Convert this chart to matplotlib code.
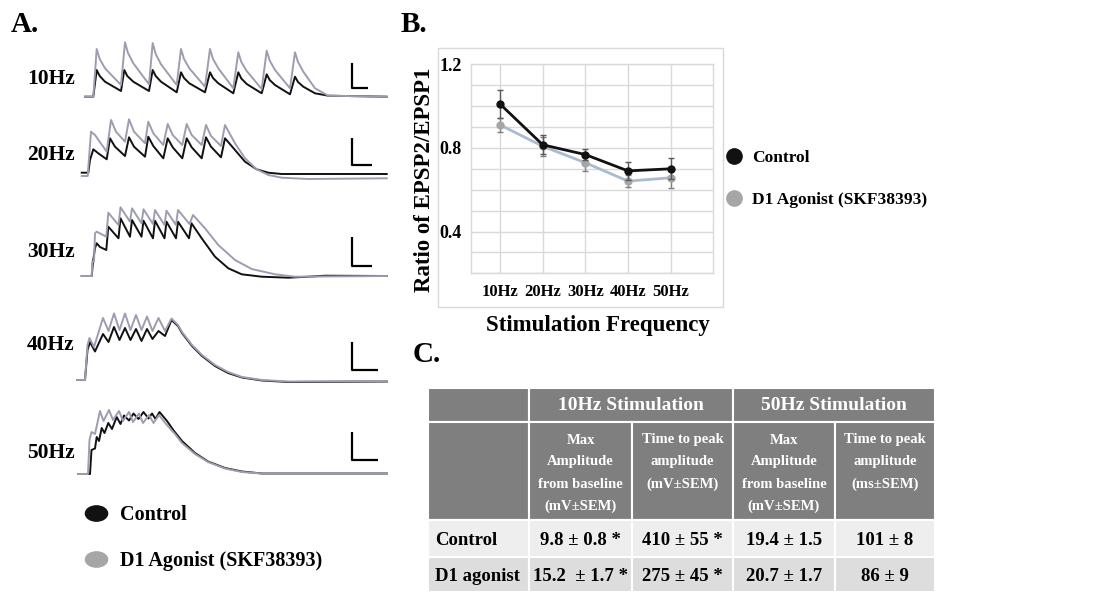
import numpy as np
import matplotlib
matplotlib.use("Agg")
import matplotlib.pyplot as plt
from matplotlib.patches import Rectangle
from matplotlib.lines import Line2D
from matplotlib.markers import MarkerStyle
from matplotlib.transforms import Affine2D

plt.rcParams['font.family'] = ['Liberation Serif', 'DejaVu Serif']
plt.rcParams['font.weight'] = 'bold'

W, H = 1117, 592

# ---------------- Panel B data ----------------
freqs = ['10Hz', '20Hz', '30Hz', '40Hz', '50Hz']
ctrl_ratio = [1.01, 0.815, 0.768, 0.69, 0.70]
ctrl_err = [0.065, 0.045, 0.028, 0.043, 0.05]
d1_ratio = [0.91, 0.808, 0.729, 0.641, 0.657]
d1_err = [0.035, 0.045, 0.04, 0.03, 0.05]

trace_rows = ['10Hz', '20Hz', '30Hz', '40Hz', '50Hz']

ctrl_10 = [(85,96.7),(93.3,96.7),(96.7,70),(99.7,76),(105,81.7),(121,91),
           (124.3,70),(127.3,76),(133.3,81.7),(149,91),
           (152.7,70),(155.7,76),(161,81.7),(176.7,92.3),
           (181,72.3),(184,78),(189.3,83.3),(205,92.3),
           (210,72.3),(213,78),(218.3,83.3),(233.3,93.3),
           (238.3,72.3),(241.3,78.5),(246.7,84),(261.7,93.3),
           (266.7,74.3),(269.7,80),(275,85),(290,94.3),
           (295,76.7),(298,82),(303.3,86.7),(315,93.3),(328.3,95.7),(386.7,96.7)]
d1_10 = [(85,96.7),(93.3,96.7),(96.7,49),(99.7,59),(105,68.3),(121,85),
         (125,42.3),(128,53),(133.3,63.3),(149,84.3),
         (152.7,43),(155.7,54),(161,64.3),(176.7,85),
         (181,49),(184,59),(189.3,68.3),(205,86.7),
         (210,49),(213,59),(218.3,68.3),(233.3,88.3),
         (238.3,52.3),(241.3,62),(246.7,71),(261.7,89),
         (266.7,50.7),(269.7,60.5),(275,70),(290,88.3),
         (295,52.3),(298,62),(303.3,71.7),(315,88.3),(328.3,95.7),(386.7,96.7)]

ctrl_20 = [(81.7,172.7),(88.3,172.7),(90,160),(93.3,149.3),(98.3,153.3),(106.7,159.3),(110,138.3),
           (115,146.7),(125,156),(129,137.3),(134,146.7),(145,156.7),(148.3,136.7),(153.3,146),
           (163.3,158.3),(167.7,138.3),(172.7,147.3),(182.3,158.3),(186.7,138.3),(191.7,147.3),
           (201.7,158.3),(206,137.3),(211,146.7),(221,157.3),(225,138.3),(235,150),(245,161.7),
           (256.7,169.3),(268.3,172.7),(281.7,174),(386.7,174)]
d1_20 = [(81.7,176),(87.7,176),(91,131.7),(95,135),(106.7,151.7),(111,120),(116,131.7),(125,141.7),
         (129,119.3),(134,131.7),(145,143.3),(148.3,121.7),(153.3,133.3),(163.3,145),(167.7,124),
         (172.7,135),(182.3,145),(186.7,124),(191.7,135),(201.7,145),(206,125),(211,136),(221,146),
         (225,125),(235,143.3),(245,158.3),(256.7,169.3),(268.3,175),(281.7,177.7),(308.3,179),(386.7,178.3)]

ctrl_30 = [(81.7,276),(91.7,276),(93,262),(95,248),(96.7,243.3),(100,247),(106.3,250),(108.3,226.7),
           (118.5,238.3),(120.5,218.3),(130,236.7),(132,220),(141.5,236.7),(143.5,220.7),(153,238.3),
           (155,220.7),(164.5,238.3),(166.5,221.7),(176,238.3),(178,221.7),(189,238.3),(191.5,223.3),
           (201.7,238.3),(215,256.7),(228.3,268.3),(241.7,274.3),(261.7,276.7),(288.3,277.7),
           (308.3,276.7),(325,275.7),(386.7,276)]
d1_30 = [(81.7,276),(91.7,276),(92.3,261.7),(94,261.7),(95,233.3),(96.7,231.7),(106.3,236.7),
         (108.3,212.7),(118.5,225),(120.5,207.3),(130,221.7),(132,208.3),(141.5,223.3),(143.5,209.3),
         (153,224),(155,210),(164.5,225),(166.5,210.7),(176,225),(178,210),(189.5,224),(193,215),
         (205,228.3),(218.3,245),(235,260),(251.7,269),(275,274.3),(295,276.7),(386.7,276)]

ctrl_40 = [(77,380),(85,380),(87.5,350),(90,342),(95,351.5),(103,334),(108.5,342),(114,327),
           (119.5,340),(125,328),(130.5,340),(136,329),(141.5,341),(147,329),(152.5,339),(158.5,331),
           (165,336),(171.5,320),(178,326),(182,333),(192,346),(202,356),(215,366),(228,373),
           (242,377.5),(262,380.5),(288,382),(387,381.5)]
d1_40 = [(77,380),(85,380),(87.5,345),(89.5,338),(94,347),(103,318),(108.5,331),(114,313.5),
         (119.5,330),(125,313.5),(130.5,330),(136,315),(141.5,330),(147,316.5),(152.5,331),
         (158.5,318),(165,331),(171.5,318.5),(178,325),(182,332),(192,345),(202,355),(215,365),
         (228,372),(242,377),(262,380),(288,381.5),(387,381)]

ctrl_50 = [(78,474),(90,474),(91.5,450),(95,448.5),(96.7,437),(99,441),(101.7,428),(104.5,433),
           (108.3,423),(112,429),(116.7,417),(120.5,424),(124,415.5),(129,420.5),(133.5,413.5),
           (138.5,419),(143.5,412),(148.5,418.5),(152,413.5),(155.5,419),(159.5,412),(167,421),
           (174,431),(182,441),(195,453),(208,461.5),(225,468),(242,471.5),(262,473.5),(387,473.5)]
d1_50 = [(78,474),(88,474),(89.5,440),(91.5,432),(95,434),(100,411),(103.5,421),(109,410),(113,420),
         (119,411),(123,421),(129,412),(133,422),(139,413.5),(143,423),(149,415),(153.5,423),
         (159,415),(166,424),(175,434),(182,443),(195,454),(208,462),(225,468.5),(242,472),
         (262,473.5),(387,473.5)]

ctrl_traces = [ctrl_10, ctrl_20, ctrl_30, ctrl_40, ctrl_50]
d1_traces = [d1_10, d1_20, d1_30, d1_40, d1_50]

# ---------------- Panel C table data ----------------
col_groups = ['10Hz Stimulation', '50Hz Stimulation']
sub_headers = [['Max', 'Amplitude', 'from baseline', '(mV±SEM)'],
               ['Time to peak', 'amplitude', '(mV±SEM)'],
               ['Max', 'Amplitude', 'from baseline', '(mV±SEM)'],
               ['Time to peak', 'amplitude', '(ms±SEM)']]
row_labels = ['Control', 'D1 agonist']
cell_values = [['9.8 ± 0.8 *', '410 ± 55 *', '19.4 ± 1.5', '101 ± 8'],
               ['15.2  ± 1.7 *', '275 ± 45 *', '20.7 ± 1.7', '86 ± 9']]

legend_labels = ['Control', 'D1 Agonist (SKF38393)']

CTRL_C = '#111111'
D1_TRACE_C = '#9d9db0'
D1_MARK_C = '#a6a6a6'
D1_LINE_C = '#a9bbd0'

fig = plt.figure(figsize=(W / 100, H / 100), dpi=100)

def fx(x):
    return x / W

def fy(y):
    return 1 - y / H

# overlay axes in pixel-like units for panel A and the table
ax0 = fig.add_axes([0, 0, 1, 1], zorder=0)
ax0.set_xlim(0, W)
ax0.set_ylim(H, 0)
ax0.axis('off')

# Panel A traces
for ct, dt in zip(ctrl_traces, d1_traces):
    xs, ys = zip(*ct)
    ax0.plot(xs, ys, color=CTRL_C, lw=1.4, solid_joinstyle='round')
    xs, ys = zip(*dt)
    ax0.plot(xs, ys, color=D1_TRACE_C, lw=1.4, solid_joinstyle='round')

# scale bars
bar_tops = [63, 138, 237, 342, 432]
bar_bottoms = [88, 165, 266, 370, 460]
bar_rights = [368, 372, 372, 378, 378]
for t, b, r in zip(bar_tops, bar_bottoms, bar_rights):
    ax0.plot([352, 352, r], [t, b, b], color='black', lw=1.6, solid_capstyle='butt')

row_label_y = [79, 155, 252, 345, 453]
for lab, y in zip(trace_rows, row_label_y):
    ax0.text(27, y, lab, ha='left', va='center', fontsize=15.5, fontweight='bold')

# Panel A legend (elliptical markers)
ell = MarkerStyle('o', transform=Affine2D().scale(1.45, 1.0))
hA = [Line2D([], [], ls='none', marker=ell, ms=11, color=CTRL_C),
      Line2D([], [], ls='none', marker=ell, ms=11, color=D1_MARK_C)]
legA = ax0.legend(hA, legend_labels, loc='center left', bbox_to_anchor=(fx(84), fy(538)),
                  bbox_transform=fig.transFigure, frameon=False, fontsize=14.5,
                  handlelength=1.15, handletextpad=0.62, labelspacing=1.25, borderpad=0,
                  borderaxespad=0)
for t in legA.get_texts():
    t.set_fontweight('bold')

# Panel labels
fig.text(fx(11), fy(25), 'A.', fontsize=21, fontweight='bold', ha='left', va='center')
fig.text(fx(401), fy(25), 'B.', fontsize=21, fontweight='bold', ha='left', va='center')
fig.text(fx(413), fy(355), 'C.', fontsize=21, fontweight='bold', ha='left', va='center')

# chart area border for panel B
ax0.add_patch(Rectangle((438, 48), 285, 259, fill=False, ec='#d9d9d9', lw=1))

# ---------------- Panel C table ----------------
col_edges = [428, 529, 632, 733, 835, 935]
row_edges = [388, 422, 520, 557, 592]
HEAD = '#7f7f7f'
body_colors = ['#eeeeee', '#dddddd']

# header row 1
ax0.add_patch(Rectangle((col_edges[0], row_edges[0]), col_edges[1] - col_edges[0],
                        row_edges[1] - row_edges[0], fc=HEAD, ec='white', lw=1.5))
for g, name in enumerate(col_groups):
    x0 = col_edges[1 + 2 * g]
    x1 = col_edges[3 + 2 * g]
    ax0.add_patch(Rectangle((x0, row_edges[0]), x1 - x0, row_edges[1] - row_edges[0],
                            fc=HEAD, ec='white', lw=1.5))
    ax0.text((x0 + x1) / 2, (row_edges[0] + row_edges[1]) / 2 + 1, name, ha='center', va='center',
             color='white', fontsize=14, fontweight='bold')
# header row 2
ax0.add_patch(Rectangle((col_edges[0], row_edges[1]), col_edges[1] - col_edges[0],
                        row_edges[2] - row_edges[1], fc=HEAD, ec='white', lw=1.5))
for j, lines in enumerate(sub_headers):
    x0, x1 = col_edges[1 + j], col_edges[2 + j]
    ax0.add_patch(Rectangle((x0, row_edges[1]), x1 - x0, row_edges[2] - row_edges[1],
                            fc=HEAD, ec='white', lw=1.5))
    for k, ln in enumerate(lines):
        ax0.text((x0 + x1) / 2, 440 + 22 * k, ln, ha='center', va='center', color='white',
                 fontsize=10.5, fontweight='bold')
# body rows
for i, (lab, vals) in enumerate(zip(row_labels, cell_values)):
    y0, y1 = row_edges[2 + i], row_edges[3 + i]
    for j in range(5):
        x0, x1 = col_edges[j], col_edges[j + 1]
        ax0.add_patch(Rectangle((x0, y0), x1 - x0, y1 - y0, fc=body_colors[i], ec='white', lw=1.5))
    yc = (y0 + y1) / 2 + 2
    ax0.text(435, yc, lab, ha='left', va='center', fontsize=13.5, fontweight='bold')
    for j, v in enumerate(vals):
        ax0.text((col_edges[1 + j] + col_edges[2 + j]) / 2, yc, v, ha='center', va='center',
                 fontsize=13.5, fontweight='bold')

# ---------------- Panel B chart ----------------
axb = fig.add_axes([fx(471), fy(273.3), 242.3 / W, 209 / H], zorder=2)
x = np.arange(1, len(freqs) + 1)
axb.errorbar(x, d1_ratio, yerr=d1_err, fmt='-o', color=D1_LINE_C, lw=2, ms=5,
             mfc=D1_MARK_C, mec=D1_MARK_C, ecolor='#7f7f7f', elinewidth=1, capsize=2, zorder=3)
axb.errorbar(x, ctrl_ratio, yerr=ctrl_err, fmt='-o', color=CTRL_C, lw=2, ms=5,
             ecolor='#595959', elinewidth=1, capsize=2, zorder=4)
axb.set_xlim(0.32, 6.0)
axb.set_ylim(0.2, 1.2)
yt = np.round(np.arange(0.2, 1.21, 0.1), 1)
axb.set_yticks(yt, [f'{v:.1f}' if int(round(v * 10)) % 4 == 0 else '' for v in yt])
axb.set_xticks(x, freqs)
axb.grid(True, color='#d9d9d9', lw=1)
axb.set_axisbelow(True)
for s in axb.spines.values():
    s.set_color('#d9d9d9')
    s.set_linewidth(1)
axb.tick_params(axis='y', length=0, pad=6.5, labelsize=13)
axb.tick_params(axis='x', length=0, pad=8, labelsize=12)
for t in axb.get_xticklabels() + axb.get_yticklabels():
    t.set_fontweight('bold')

fig.text(fx(425), fy(180), 'Ratio of EPSP2/EPSP1', rotation=90, ha='center', va='center',
         fontsize=16.5, fontweight='bold')
fig.text(fx(598), fy(325), 'Stimulation Frequency', ha='center', va='center',
         fontsize=16.5, fontweight='bold')

hB = [Line2D([], [], ls='none', marker='o', ms=11, color=CTRL_C),
      Line2D([], [], ls='none', marker='o', ms=11, color=D1_MARK_C)]
legB = axb.legend(hB, legend_labels, loc='center left', bbox_to_anchor=(fx(725.3), fy(178.7)),
                  bbox_transform=fig.transFigure, frameon=False, fontsize=12.5,
                  handlelength=1.0, handletextpad=0.52, labelspacing=1.5, borderpad=0,
                  borderaxespad=0)
for t in legB.get_texts():
    t.set_fontweight('bold')

fig.savefig('out.png', dpi=100)
